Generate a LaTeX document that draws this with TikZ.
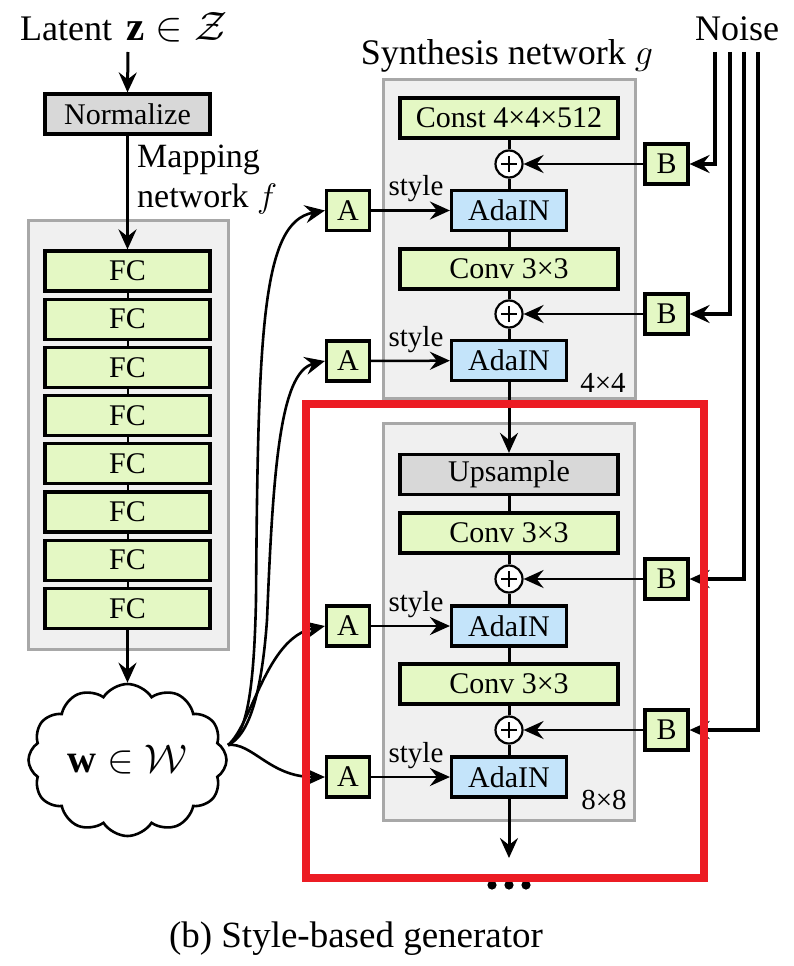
\RequirePackage{fix-cm}
\documentclass[tikz,border=0pt]{standalone}
\usepackage{fontspec}
\setmainfont{Liberation Serif}
\usetikzlibrary{arrows.meta,shapes.symbols}

\definecolor{boxgreen}{RGB}{228,248,196}
\definecolor{boxblue}{RGB}{196,228,250}
\definecolor{boxgray}{RGB}{216,216,216}
\definecolor{panelfill}{RGB}{240,240,240}
\definecolor{panelline}{RGB}{168,168,168}
\definecolor{hilite}{RGB}{236,28,36}

\begin{document}
\begin{tikzpicture}[x=1pt,y=-1pt,
  >={Stealth[length=20pt,width=18pt,inset=7pt]},
  blk/.style={draw, line width=3.2pt, inner sep=0pt, minimum height=40pt,
              font=\fontsize{30}{34}\selectfont},
  wide/.style={blk, minimum width=218pt},
  fcbox/.style={blk, fill=boxgreen, minimum width=165pt},
  adabox/.style={blk, fill=boxblue, minimum width=115pt},
  smallbox/.style={blk, fill=boxgreen, minimum width=43pt},
  panel/.style={draw=panelline, fill=panelfill, line width=3pt},
  sumnode/.style={circle, draw, fill=white, line width=2.2pt, minimum size=27pt, inner sep=0pt,
    path picture={
      \draw[line width=1.6pt] ([xshift=-8pt]path picture bounding box.center) -- ([xshift=8pt]path picture bounding box.center);
      \draw[line width=1.6pt] ([yshift=-8pt]path picture bounding box.center) -- ([yshift=8pt]path picture bounding box.center);}},
  flow/.style={line width=3pt, ->},
  link/.style={line width=3pt},
  stylearrow/.style={line width=2.5pt, ->},
  wcurve/.style={line width=2.6pt, ->},
  noiseline/.style={line width=3.5pt, ->},
  biglabel/.style={font=\fontsize{36}{40}\selectfont, inner sep=0pt},
  midlabel/.style={font=\fontsize{34}{40}\selectfont, inner sep=0pt},
  smalllabel/.style={font=\fontsize{29}{32}\selectfont, inner sep=0pt},
]
\useasboundingbox (0,0) rectangle (794,966);

% ---------- background panels ----------
\draw[panel] (28,220) rectangle (228,649);
\draw[panel] (383,79) rectangle (635,398);
\draw[panel] (383,423) rectangle (634,820);

% ---------- mapping network ----------
\node[biglabel, anchor=base west] (latent) at (20,41)
  {Latent\hspace{14pt}{\fontsize{41}{44}\selectfont$\mathbf{z}\in\mathcal{Z}$}};
\node[blk, fill=boxgray, minimum width=165pt] (norm) at (127.5,114) {Normalize};
\node[midlabel, anchor=base west] (maplbl) at (137,167) {Mapping};
\node[midlabel, anchor=base west] (maplbl2) at (137,207) {network $f$};

\foreach \i in {1,...,8}
  \node[fcbox] (fc\i) at (127.5,{271+48.2*(\i-1)}) {FC};
\foreach \i [evaluate=\i as \j using int(\i+1)] in {1,...,7}
  \draw[link, line width=2pt] (fc\i) -- (fc\j);

\node[cloud, draw, line width=2.6pt, cloud puffs=12, cloud puff arc=115, aspect=1.3,
      minimum width=198pt, minimum height=152pt, inner sep=0pt,
      font=\fontsize{40}{44}\selectfont] (w) at (127.5,760) {$\mathbf{w}\in\mathcal{W}$};

\coordinate (zin) at (128,52);
\draw[flow] (zin) -- (norm.north);
\draw[flow] (norm) -- (fc1);
\draw[flow] (fc8) -- (w.north);

% ---------- synthesis network, 4x4 block ----------
\node[biglabel, anchor=base] (synlbl) at (507,64) {Synthesis network $g$};
\node[biglabel, anchor=base] (noiselbl) at (737,41) {Noise};

\node[wide, fill=boxgreen] (const) at (509,118) {Const 4×4×512};
\node[sumnode] (p1) at (509,164) {};
\node[adabox] (ada1) at (509,210.5) {AdaIN};
\node[wide, fill=boxgreen] (conv1) at (509,269) {Conv 3×3};
\node[sumnode] (p2) at (509,314) {};
\node[adabox] (ada2) at (509,360.5) {AdaIN};
\node[smalllabel, anchor=base] (res4) at (603,392) {4×4};

\draw[link] (const) -- (p1);
\draw[link] (p1) -- (ada1);
\draw[link] (ada1) -- (conv1);
\draw[link] (conv1) -- (p2);
\draw[link] (p2) -- (ada2);

% ---------- synthesis network, 8x8 block ----------
\node[wide, fill=boxgray] (up) at (509,474.5) {Upsample};
\node[wide, fill=boxgreen] (conv2) at (509,533) {Conv 3×3};
\node[sumnode] (p3) at (509,579) {};
\node[adabox] (ada3) at (509,626) {AdaIN};
\node[wide, fill=boxgreen] (conv3) at (509,684) {Conv 3×3};
\node[sumnode] (p4) at (509,730) {};
\node[adabox] (ada4) at (509,777) {AdaIN};
\node[smalllabel, anchor=base] (res8) at (604,809) {8×8};
\coordinate (gout) at (509,858);

\draw[flow] (ada2) -- (up);
\draw[link] (up) -- (conv2);
\draw[link] (conv2) -- (p3);
\draw[link] (p3) -- (ada3);
\draw[link] (ada3) -- (conv3);
\draw[link] (conv3) -- (p4);
\draw[link] (p4) -- (ada4);
\draw[flow] (ada4) -- (gout);

\foreach \x in {492,509,526}
  \fill (\x,885) circle (4.6pt);

% ---------- style inputs ----------
\node[smallbox] (a1) at (348,210.5) {A};
\node[smallbox] (a2) at (348,361) {A};
\node[smallbox] (a3) at (348,626) {A};
\node[smallbox] (a4) at (348,777) {A};

\draw[stylearrow] (a1) -- (ada1);
\draw[stylearrow] (a2) -- (ada2);
\draw[stylearrow] (a3) -- (ada3);
\draw[stylearrow] (a4) -- (ada4);
\node[smalllabel, anchor=base] (s1) at (416,195) {style};
\node[smalllabel, anchor=base] (s2) at (416,346) {style};
\node[smalllabel, anchor=base] (s3) at (416,611) {style};
\node[smalllabel, anchor=base] (s4) at (416,762) {style};

\coordinate (wsrc) at (228,745);
\draw[wcurve] (wsrc) .. controls (247,735) and (254,690) .. (256,600)
                     .. controls (258,330) and (262,222) .. (a1.west);
\draw[wcurve] (wsrc) .. controls (250,735) and (262,690) .. (267,620)
                     .. controls (273,470) and (280,372) .. (a2.west);
\draw[wcurve] (wsrc) .. controls (252,725) and (266,638) .. (a3.west);
\draw[wcurve] (wsrc) .. controls (252,742) and (270,777) .. (a4.west);

% ---------- noise inputs ----------
\node[smallbox] (b1) at (666.5,164) {B};
\node[smallbox] (b2) at (666.5,314) {B};
\node[smallbox] (b3) at (666.5,579) {B};
\node[smallbox] (b4) at (666.5,730) {B};

\draw[stylearrow] (b1) -- (p1);
\draw[stylearrow] (b2) -- (p2);
\draw[stylearrow] (b3) -- (p3);
\draw[stylearrow] (b4) -- (p4);

\coordinate (n1) at (715,52);
\coordinate (n2) at (730,52);
\coordinate (n3) at (744,52);
\coordinate (n4) at (758,52);
\draw[noiseline] (n1) |- (b1.east);
\draw[noiseline] (n2) |- (b2.east);
\draw[noiseline] (n3) |- (b3.east);
\draw[noiseline] (n4) |- (b4.east);

% ---------- highlighted block ----------
\draw[hilite, line width=8pt] (306,404) rectangle (704,878);

\node[font=\fontsize{37}{40}\selectfont, anchor=base, inner sep=0pt] (caption) at (356,947)
  {(b) Style-based generator};
\end{tikzpicture}
\end{document}
